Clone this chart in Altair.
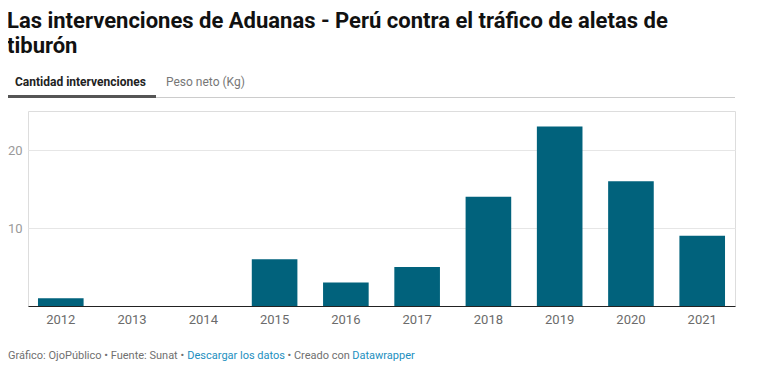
import altair as alt
import pandas as pd

years = ["2012", "2013", "2014", "2015", "2016", "2017", "2018", "2019", "2020", "2021"]
counts = [1, 0, 0, 6, 3, 5, 14, 23, 16, 9]

title_lines = ["Las intervenciones de Aduanas - Perú contra el tráfico de aletas de", "tiburón"]
tabs = ["Cantidad intervenciones", "Peso neto (Kg)"]
footer = ["Gráfico: OjoPúblico • Fuente: Sunat •", "Descargar los datos", "• Creado con", "Datawrapper"]

df = pd.DataFrame({"year": years, "count": counts})

FONT = "Roboto"
BAR = "#01627c"

bars = alt.Chart(df).mark_bar(color=BAR).encode(
    x=alt.X("year:N", title=None,
            scale=alt.Scale(paddingInner=0.36, paddingOuter=0.14),
            axis=alt.Axis(labelAngle=0, ticks=False, tickSize=0, labelPadding=7,
                          labelFont=FONT, labelFontSize=13, labelColor="#6b6b6b",
                          domainColor="#222222", domainWidth=1, grid=False)),
    y=alt.Y("count:Q", title=None,
            scale=alt.Scale(domain=[0, 25], nice=False),
            axis=alt.Axis(values=[10, 20], ticks=False, tickSize=0, domain=False,
                          labelPadding=6, labelFont=FONT, labelFontSize=13,
                          labelColor="#9a9a9a", gridColor="#e6e6e6", gridWidth=1)),
)

one = alt.Data(values=[{}])


def txt(text, x, y, size, color, weight="normal"):
    return alt.Chart(one).mark_text(
        text=text, align="left", baseline="alphabetic", font=FONT,
        fontSize=size, fontWeight=weight, color=color
    ).encode(x=alt.value(x), y=alt.value(y))


def rule(x1, x2, y, color, w):
    return alt.Chart(one).mark_rule(color=color, strokeWidth=w).encode(
        x=alt.value(x1), x2=alt.value(x2), y=alt.value(y))


layers = [
    bars,
    txt(title_lines[0], -21, -83.5, 22, "#111111", "bold"),
    txt(title_lines[1], -21, -58, 22, "#111111", "bold"),
    txt(tabs[0], -13, -25, 12, "#222222", "bold"),
    txt(tabs[1], 138, -25, 12, "#777777"),
    rule(128, 707, -13.5, "#cccccc", 1),
    rule(-20, 128, -14.5, "#555555", 3),
    txt(footer[0], -20, 248, 11, "#707070"),
    txt(footer[1], 159.3, 248, 11, "#1d8fc0"),
    txt(footer[2], 259.5, 248, 11, "#707070"),
    txt(footer[3], 324.3, 248, 11, "#1d8fc0"),
]

chart = alt.layer(*layers).properties(
    width=707, height=195,
    autosize=alt.AutoSizeParams(type="none"),
    padding={"left": 20, "top": 103, "right": 19, "bottom": 58},
).configure_view(stroke=None).configure(background="white")

chart.save("out.html", embed_options={"renderer": "svg", "actions": False})
